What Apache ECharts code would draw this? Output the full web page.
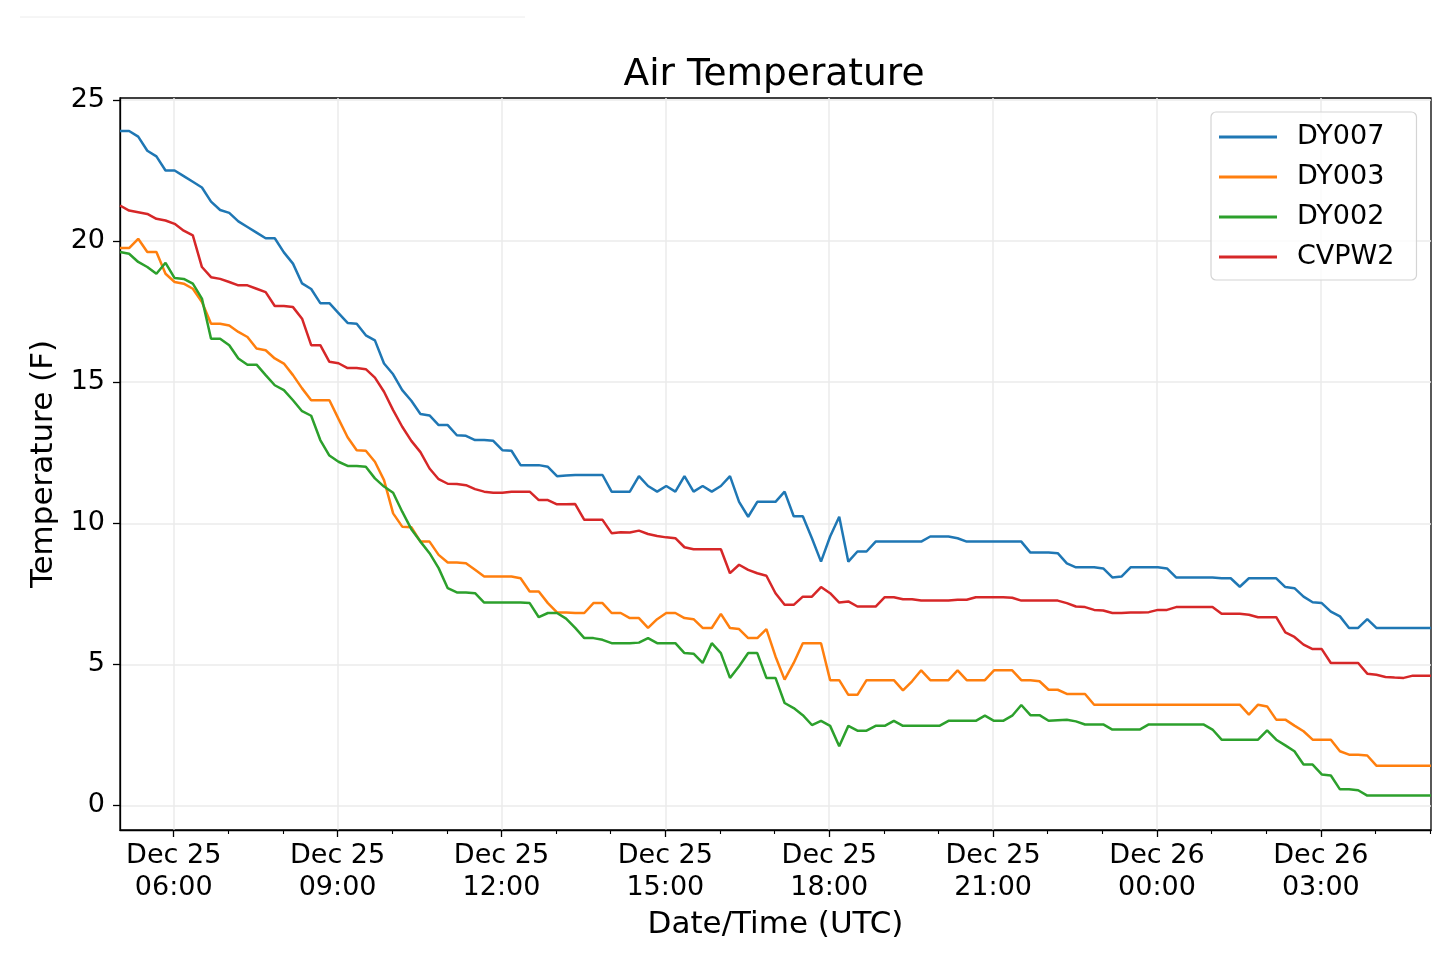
<!DOCTYPE html>
<html>
<head>
<meta charset="utf-8">
<script src="https://cdn.jsdelivr.net/npm/echarts@6/dist/echarts.min.js"></script>
<style>
html,body{margin:0;padding:0;background:#fff;}
#chart{width:1440px;height:958px;}
</style>
</head>
<body>
<div id="chart"></div>
<script>
// ---- data ----
const seriesNames = ['DY007', 'DY003', 'DY002', 'CVPW2'];
const seriesColors = ['#1f77b4', '#ff7f0e', '#2ca02c', '#d62728'];
const startTime = '2017-12-25T05:01:00Z';
const stepMinutes = 10;

const dy007 = [
  23.9, 23.9, 23.7, 23.2, 23.0, 22.5, 22.5, 22.3, 22.1, 21.9,
  21.4, 21.1, 21.0, 20.7, 20.5, 20.3, 20.1, 20.1, 19.6, 19.2,
  18.5, 18.3, 17.8, 17.8, 17.45, 17.1, 17.07, 16.66, 16.48, 15.66,
  15.28, 14.72, 14.34, 13.87, 13.82, 13.48, 13.48, 13.12, 13.1, 12.95,
  12.95, 12.92, 12.59, 12.57, 12.06, 12.06, 12.06, 12.0, 11.67, 11.69,
  11.71, 11.71, 11.71, 11.71, 11.12, 11.12, 11.12, 11.67, 11.32, 11.12,
  11.32, 11.12, 11.67, 11.12, 11.32, 11.12, 11.32, 11.67, 10.76, 10.23,
  10.76, 10.76, 10.76, 11.12, 10.25, 10.25, 9.47, 8.64, 9.53, 10.23,
  8.64, 9.0, 9.0, 9.35, 9.35, 9.35, 9.35, 9.35, 9.35, 9.53,
  9.53, 9.53, 9.47, 9.35, 9.35, 9.35, 9.35, 9.35, 9.35, 9.35,
  8.96, 8.96, 8.96, 8.94, 8.58, 8.44, 8.44, 8.44, 8.4, 8.08,
  8.11, 8.44, 8.44, 8.44, 8.44, 8.4, 8.08, 8.08, 8.08, 8.08,
  8.08, 8.05, 8.05, 7.75, 8.05, 8.05, 8.05, 8.05, 7.74, 7.7,
  7.4, 7.2, 7.17, 6.87, 6.7, 6.29, 6.29, 6.6, 6.29, 6.29,
  6.29, 6.29, 6.29, 6.29, 6.29
];

const dy003 = [
  19.75, 19.75, 20.08, 19.61, 19.61, 18.84, 18.55, 18.49, 18.31, 17.84,
  17.07, 17.07, 17.01, 16.78, 16.6, 16.19, 16.13, 15.84, 15.66, 15.25,
  14.78, 14.36, 14.36, 14.36, 13.7, 13.05, 12.59, 12.57, 12.18, 11.53,
  10.35, 9.88, 9.86, 9.35, 9.35, 8.88, 8.61, 8.61, 8.58, 8.35,
  8.11, 8.11, 8.11, 8.11, 8.05, 7.58, 7.58, 7.17, 6.84, 6.84,
  6.82, 6.82, 7.17, 7.17, 6.82, 6.82, 6.64, 6.64, 6.29, 6.6,
  6.82, 6.82, 6.64, 6.6, 6.29, 6.29, 6.79, 6.29, 6.25, 5.93,
  5.93, 6.25, 5.28, 4.46, 5.05, 5.75, 5.75, 5.75, 4.44, 4.44,
  3.92, 3.92, 4.44, 4.44, 4.44, 4.44, 4.08, 4.4, 4.79, 4.44,
  4.44, 4.44, 4.79, 4.44, 4.44, 4.44, 4.79, 4.79, 4.79, 4.44,
  4.44, 4.4, 4.1, 4.1, 3.95, 3.95, 3.95, 3.57, 3.57, 3.57,
  3.57, 3.57, 3.57, 3.57, 3.57, 3.57, 3.57, 3.57, 3.57, 3.57,
  3.57, 3.57, 3.57, 3.57, 3.22, 3.57, 3.51, 3.04, 3.04, 2.83,
  2.63, 2.33, 2.33, 2.33, 1.92, 1.8, 1.8, 1.77, 1.41, 1.41,
  1.41, 1.41, 1.41, 1.41, 1.41
];

const dy002 = [
  19.61, 19.55, 19.26, 19.08, 18.84, 19.23, 18.69, 18.66, 18.49, 17.96,
  16.54, 16.54, 16.31, 15.84, 15.62, 15.62, 15.25, 14.89, 14.72, 14.36,
  13.97, 13.81, 12.95, 12.4, 12.18, 12.03, 12.03, 12.0, 11.59, 11.3,
  11.08, 10.41, 9.79, 9.35, 8.94, 8.41, 7.7, 7.55, 7.55, 7.52,
  7.19, 7.19, 7.19, 7.19, 7.19, 7.17, 6.67, 6.82, 6.82, 6.62,
  6.29, 5.93, 5.93, 5.87, 5.75, 5.75, 5.75, 5.77, 5.93, 5.75,
  5.75, 5.75, 5.4, 5.38, 5.05, 5.75, 5.4, 4.52, 4.93, 5.4,
  5.4, 4.52, 4.52, 3.63, 3.45, 3.2, 2.85, 3.0, 2.82, 2.1,
  2.82, 2.65, 2.65, 2.82, 2.82, 3.0, 2.82, 2.82, 2.82, 2.82,
  2.82, 3.0, 3.0, 3.0, 3.0, 3.18, 3.0, 3.0, 3.18, 3.56,
  3.2, 3.2, 3.0, 3.02, 3.04, 2.98, 2.87, 2.87, 2.87, 2.69,
  2.69, 2.69, 2.69, 2.87, 2.87, 2.87, 2.87, 2.87, 2.87, 2.87,
  2.69, 2.33, 2.33, 2.33, 2.33, 2.33, 2.66, 2.33, 2.13, 1.92,
  1.45, 1.45, 1.1, 1.06, 0.57, 0.57, 0.54, 0.35, 0.35, 0.35,
  0.35, 0.35, 0.35, 0.35, 0.35
];

const cvpw2 = [
  21.26, 21.08, 21.02, 20.96, 20.79, 20.73, 20.61, 20.37, 20.2, 19.08,
  18.72, 18.66, 18.55, 18.43, 18.43, 18.31, 18.19, 17.7, 17.7, 17.66,
  17.25, 16.31, 16.31, 15.72, 15.67, 15.5, 15.5, 15.46, 15.16, 14.66,
  14.01, 13.42, 12.92, 12.52, 11.94, 11.56, 11.4, 11.39, 11.35, 11.21,
  11.12, 11.08, 11.08, 11.12, 11.12, 11.12, 10.82, 10.82, 10.67, 10.67,
  10.68, 10.12, 10.12, 10.12, 9.65, 9.68, 9.67, 9.74, 9.62, 9.55,
  9.5, 9.47, 9.15, 9.08, 9.08, 9.08, 9.08, 8.23, 8.53, 8.35,
  8.23, 8.14, 7.52, 7.11, 7.11, 7.4, 7.4, 7.74, 7.52, 7.19,
  7.23, 7.05, 7.05, 7.05, 7.38, 7.38, 7.31, 7.31, 7.26, 7.26,
  7.26, 7.26, 7.29, 7.29, 7.38, 7.38, 7.38, 7.38, 7.36, 7.26,
  7.26, 7.26, 7.26, 7.26, 7.17, 7.05, 7.03, 6.93, 6.91, 6.82,
  6.82, 6.84, 6.84, 6.85, 6.93, 6.93, 7.03, 7.03, 7.03, 7.03,
  7.03, 6.79, 6.79, 6.79, 6.76, 6.67, 6.67, 6.67, 6.13, 5.97,
  5.7, 5.54, 5.54, 5.05, 5.05, 5.05, 5.05, 4.67, 4.63, 4.55,
  4.53, 4.52, 4.6, 4.6, 4.6
];

const seriesValues = [dy007, dy003, dy002, cvpw2];

const xTickTimes = [
  '2017-12-25T06:00:00Z', '2017-12-25T09:00:00Z', '2017-12-25T12:00:00Z',
  '2017-12-25T15:00:00Z', '2017-12-25T18:00:00Z', '2017-12-25T21:00:00Z',
  '2017-12-26T00:00:00Z', '2017-12-26T03:00:00Z'
];
const xTickLabels = [
  'Dec 25\n06:00', 'Dec 25\n09:00', 'Dec 25\n12:00', 'Dec 25\n15:00',
  'Dec 25\n18:00', 'Dec 25\n21:00', 'Dec 26\n00:00', 'Dec 26\n03:00'
];
const xMinorTickTimes = [
  '2017-12-25T07:00:00Z', '2017-12-25T08:00:00Z', '2017-12-25T10:00:00Z',
  '2017-12-25T11:00:00Z', '2017-12-25T13:00:00Z', '2017-12-25T14:00:00Z',
  '2017-12-25T16:00:00Z', '2017-12-25T17:00:00Z', '2017-12-25T19:00:00Z',
  '2017-12-25T20:00:00Z', '2017-12-25T22:00:00Z', '2017-12-25T23:00:00Z',
  '2017-12-26T01:00:00Z', '2017-12-26T02:00:00Z', '2017-12-26T04:00:00Z',
  '2017-12-26T05:00:00Z'
];
const yTicks = [0, 5, 10, 15, 20, 25];

// ---- build ----
const FONT = 'DejaVu Sans';
const t0 = Date.parse(startTime);
const stepMs = stepMinutes * 60 * 1000;
const nPts = dy007.length;
const tMin = t0;
const tMax = t0 + (nPts - 1) * stepMs;
const majorTicks = xTickTimes.map(s => Date.parse(s));
const minorTicks = xMinorTickTimes.map(s => Date.parse(s));
const labelByTime = {};
majorTicks.forEach((t, i) => { labelByTime[t] = xTickLabels[i]; });

const series = seriesNames.map((name, k) => ({
  name: name,
  type: 'line',
  xAxisIndex: 0,
  yAxisIndex: 0,
  showSymbol: false,
  symbol: 'none',
  smooth: false,
  z: 2 + k,
  color: seriesColors[k],
  lineStyle: { width: 2.5, color: seriesColors[k] },
  emphasis: { disabled: true },
  data: seriesValues[k].map((v, i) => [t0 + i * stepMs, v])
}));

const chart = echarts.init(document.getElementById('chart'), null, { renderer: 'canvas' });
const option = {
  animation: false,
  backgroundColor: '#ffffff',
  title: {
    text: 'Air Temperature',
    left: 774,
    top: 56,
    textAlign: 'center',
    padding: 0,
    textStyle: { fontFamily: FONT, fontSize: 37.5, fontWeight: 'normal', color: '#000' }
  },
  graphic: [{
    type: 'line',
    shape: { x1: 20, y1: 17, x2: 525, y2: 17 },
    style: { stroke: '#ececec', lineWidth: 1 },
    silent: true
  }],
  grid: {
    left: 120, top: 98, width: 1311, height: 732,
    show: true, borderColor: '#000', borderWidth: 1.3, backgroundColor: 'transparent',
    containLabel: false
  },
  legend: {
    orient: 'vertical',
    left: 1211,
    top: 112,
    data: seriesNames,
    icon: 'rect',
    itemWidth: 58,
    itemHeight: 3,
    itemGap: 10,
    textStyle: { fontFamily: FONT, fontSize: 27, color: '#000', lineHeight: 30, padding: [0, 0, 0, 15] },
    backgroundColor: 'rgba(255,255,255,0.8)',
    borderColor: '#d4d4d4',
    borderWidth: 1.2,
    borderRadius: 5,
    padding: [10, 22, 8, 8],
    selectedMode: false
  },
  xAxis: [{
    type: 'value',
    min: tMin,
    max: tMax,
    position: 'bottom',
    axisLine: { show: true, onZero: false, lineStyle: { color: '#000', width: 1.3 } },
    axisTick: { show: true, inside: false, length: 7, customValues: majorTicks, lineStyle: { color: '#000', width: 1.3 } },
    axisLabel: {
      show: true,
      customValues: majorTicks,
      formatter: function (v) { return labelByTime[v] || ''; },
      fontFamily: FONT, fontSize: 27, color: '#000', lineHeight: 32, margin: 10,
      align: 'center', hideOverlap: false, showMinLabel: true, showMaxLabel: true
    },
    splitLine: { show: true, lineStyle: { color: '#ebebeb', width: 1.5 } },
    minorTick: { show: false },
    name: 'Date/Time (UTC)',
    nameLocation: 'middle',
    nameGap: 79,
    nameTextStyle: { fontFamily: FONT, fontSize: 31, color: '#000' }
  }, {
    type: 'value',
    min: tMin,
    max: tMax,
    position: 'bottom',
    gridIndex: 0,
    axisLine: { show: false, onZero: false },
    axisTick: { show: true, inside: false, length: 4, customValues: minorTicks, lineStyle: { color: '#000', width: 1.1 } },
    axisLabel: { show: false },
    splitLine: { show: false }
  }],
  yAxis: [{
    type: 'value',
    min: -0.87,
    max: 25.07,
    axisLine: { show: true, onZero: false, lineStyle: { color: '#000', width: 1.3 } },
    axisTick: { show: true, inside: false, length: 7, customValues: yTicks, lineStyle: { color: '#000', width: 1.3 } },
    axisLabel: {
      show: true, customValues: yTicks,
      fontFamily: FONT, fontSize: 27, color: '#000', margin: 15
    },
    splitLine: { show: true, lineStyle: { color: '#ebebeb', width: 1.5 } },
    name: 'Temperature (F)',
    nameLocation: 'middle',
    nameGap: 57,
    nameRotate: 90,
    nameTextStyle: { fontFamily: FONT, fontSize: 31, color: '#000' }
  }],
  series: series
};
chart.setOption(option);
</script>
</body>
</html>
